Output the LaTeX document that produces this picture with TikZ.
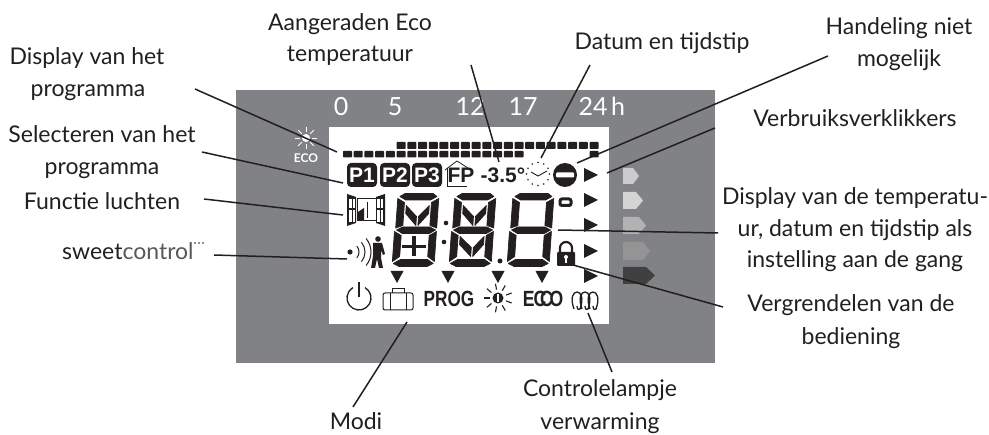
\documentclass[tikz,border=0pt]{standalone}
\usepackage{fontspec}
\setmainfont{Lato}
\newfontfamily\boldfont{Liberation Sans}
\definecolor{panel}{HTML}{808285}
\definecolor{ink}{HTML}{231F20}
\newcommand{\digitouter}{%
  \fill[seg] (5,70) -- (10,73) -- (38,73) -- (42,70) -- (36,66.5) -- (11,66.5) -- cycle;
  \fill[seg] (3,68) -- (10,64) -- (10,41) -- (3,38.5) -- cycle;
  \fill[seg] (44,68) -- (37,64) -- (37,41) -- (44,38.5) -- cycle;
  \fill[seg] (4,36.5) -- (10,39.5) -- (37,39.5) -- (43,36.5) -- (37,33) -- (10,33) -- cycle;
  \fill[seg] (2,35) -- (9,31) -- (9,10) -- (2,5) -- cycle;
  \fill[seg] (44,35) -- (37,31) -- (37,10) -- (44,5) -- cycle;
  \fill[seg] (3,3) -- (9,0) -- (37,0) -- (43,3) -- (37,7) -- (10,7) -- cycle;
}
\newcommand{\digitupm}{%
  \fill[seg] (12,61) -- (23,50) -- (23,41) -- (12,53) -- cycle;
  \fill[seg] (35,61) -- (25,50) -- (25,41) -- (35,53) -- cycle;
}
\newcommand{\digitlowm}{%
  \fill[seg] (11,30) -- (23,19) -- (23,10) -- (11,22) -- cycle;
  \fill[seg] (35,30) -- (25,19) -- (25,10) -- (35,22) -- cycle;
}
\newcommand{\digitplus}{%
  \fill[ink] (11,18.5) rectangle (34,21.5);
  \fill[ink] (21,10) rectangle (24,30);
}
\tikzset{
  x=1pt,y=-1pt,
  seg/.style={fill=ink,draw=ink,line width=0.7pt,line join=round},
  lbl/.style={font=\fontsize{23}{23}\selectfont,text=ink,anchor=base,inner sep=0pt,outer sep=0pt},
  leader/.style={draw=ink,line width=1.5pt},
  dignum/.style={font=\fontsize{25}{25}\selectfont,text=white,anchor=base,inner sep=0pt},
  pbox/.style={fill=ink,rounded corners=4pt},
  ptxt/.style={font=\boldfont\bfseries\fontsize{21}{21}\selectfont,text=white,anchor=base,inner sep=0pt},
  inktxt/.style={font=\boldfont\bfseries\fontsize{21}{21}\selectfont,text=ink,anchor=base,inner sep=0pt},
  tri/.style={fill=ink},
  digitframe/.style={x={(1pt,0pt)},y={(0.07pt,1pt)}},
}
\begin{document}
\begin{tikzpicture}
\useasboundingbox (0,0) rectangle (989,435);
\fill[white] (0,0) rectangle (989,435);
\fill[panel] (236,90) rectangle (715,363);
\fill[white] (329,127) rectangle (609,324);

% hour numbers
\node[dignum] (h0) at (341,116) {0};
\node[dignum] (h5) at (395,116) {5};
\node[dignum] (h12) at (470,116) {12};
\node[dignum] (h17) at (523,116) {17};
\node[dignum] (h24) at (593,116) {24};
\node[dignum] (hh) at (618,116) {h};

% eco sun in the panel
\foreach \a in {0,45,135,180,225,270,315,90}
  \draw[white,line width=0.9pt] (306,138) ++(\a:6) -- ++(\a:5);
\fill[white] (306,138) circle (4);
\node[font=\bfseries\fontsize{12}{12}\selectfont,text=white,inner sep=0pt] (ecopanel) at (306,158) {ECO};

% programme bars
\foreach \i in {0,...,23}{
  \pgfmathsetmacro{\bx}{343+10.72*\i}
  \ifnum\i<17 \fill[ink,rounded corners=0.7pt] (\bx,151) rectangle ++(9,6.4);\fi
  \ifnum\i=23 \fill[ink,rounded corners=0.7pt] (\bx,151) rectangle ++(9,6.4);\fi
  \ifnum\i>4 \fill[ink,rounded corners=0.7pt] (\bx,142) rectangle ++(9,7);\fi
}

% P1 P2 P3 FP
\fill[pbox] (347,163) rectangle (377,187);
\fill[pbox] (380,163) rectangle (410,187);
\fill[pbox] (412,163) rectangle (442,187);
\node[ptxt] (p1) at (362,183) {P1};
\node[ptxt] (p2) at (395,183) {P2};
\node[ptxt] (p3) at (427,183) {P3};
\node[inktxt] (fp) at (461,183) {FP};
\draw[ink,line width=0.8pt] (447,168) -- (447,186.5) -- (467,186.5);
\draw[ink,line width=0.8pt] (445,170) -- (457,161) -- (471,170);
\node[inktxt] (ecotemp) at (503,183) {-3.5°};

% clock
\foreach \a in {0,30,...,330}
  \fill[ink] (538,174) ++(\a:11.5) circle (0.9);
\draw[ink,line width=0.9pt] (531,172) -- (538,176) -- (547,171);
% no entry
\fill[ink] (565,175) circle (12);
\fill[white,rounded corners=1pt] (556,172.5) rectangle (574,177.5);

% level triangles
\foreach \y in {175,200,225,251,276}
  \fill[tri] (584,\y-7) -- (598,\y) -- (584,\y+7) -- cycle;
% consumption arrows
\fill[black!20] (623,168) -- (633,168) -- (639,176) -- (633,184) -- (623,184) -- cycle;
\fill[black!17] (623,192) -- (636,192) -- (643,200.5) -- (636,209) -- (623,209) -- cycle;
\fill[black!30] (623,217) -- (639,217) -- (646,225.5) -- (639,234) -- (623,234) -- cycle;
\fill[black!42] (623,242) -- (643,242) -- (650,251) -- (643,260) -- (623,260) -- cycle;
\fill[black!75] (623,267) -- (646,267) -- (655,275.5) -- (646,284) -- (623,284) -- cycle;

% seven segment digits
\begin{scope}[shift={(390,266.5)},digitframe]
  \digitouter\digitupm\digitplus
\end{scope}
\begin{scope}[shift={(447,266.5)},digitframe]
  \digitouter\digitupm\digitlowm
\end{scope}
\begin{scope}[shift={(505,266.5)},digitframe]
  \digitouter
\end{scope}
\fill[ink] (446,223) circle (2.3);
\fill[ink] (444,242) circle (2.3);
\fill[ink] (500,261) circle (2.5);
\draw[ink,line width=3pt,rounded corners=2pt] (560,199) rectangle (571,205.5);

% window icon
\draw[ink,line width=1pt] (357,199) rectangle (376,221);
\fill[ink] (347,194) -- (356,197) -- (356,223) -- (347,226) -- cycle;
\fill[ink] (385,194) -- (376,197) -- (376,223) -- (385,226) -- cycle;
\fill[white] (349,199) rectangle (351.5,208);
\fill[white] (352.5,199) rectangle (355,208);
\fill[white] (349,210) rectangle (351.5,222);
\fill[white] (352.5,210) rectangle (355,222);
\fill[white] (377,199) rectangle (379.5,208);
\fill[white] (380.5,199) rectangle (383,208);
\fill[white] (377,210) rectangle (379.5,222);
\fill[white] (380.5,210) rectangle (383,222);
\draw[ink,line width=0.8pt] (367,202) -- (367,218);
\fill[ink] (358,220) -- (358,212) -- (364,208) -- (364,220) -- cycle;

% presence
\fill[ink] (350,252) circle (2.6);
\draw[ink,line width=1pt] (350,252) ++(-40:9pt) arc[start angle=-40,end angle=40,radius=9pt];
\draw[ink,line width=1pt] (350,252) ++(-40:15pt) arc[start angle=-40,end angle=40,radius=15pt];
\draw[ink,line width=1pt] (350,252) ++(-40:21pt) arc[start angle=-40,end angle=40,radius=21pt];
\fill[ink] (378,239) circle (2.8);
\fill[ink] (373,243) -- (382,243) -- (385,254) -- (383,255) -- (381,250) -- (381,258) -- (383,268) -- (379,268) -- (377,259) -- (375,268) -- (371,268) -- (373,256) -- cycle;

% mode triangles
\foreach \x in {397,448,498,542}
  \fill[tri] (\x-6.5,271) -- (\x+6.5,271) -- (\x,283) -- cycle;

% power icon
\draw[ink,line width=1.3pt] (359,298) ++(60:12pt) arc[start angle=60,end angle=-240,radius=12pt];
\draw[ink,line width=1.3pt] (359,282) -- (359,297);
% suitcase
\draw[ink,line width=1pt,rounded corners=2pt] (383,293) rectangle (413,310);
\draw[ink,line width=1pt] (390,293) -- (390,310) (406,293) -- (406,310);
\draw[ink,line width=1pt] (392,293) -- (392,289) -- (404,289) -- (404,293);
% PROG
\node[inktxt,font=\boldfont\bfseries\fontsize{22}{22}\selectfont,xscale=0.78] (prog) at (449,307) {PROG};
% sun
\fill[ink] (498,298) circle (5.5);
\fill[white] (497,294) rectangle (499,302);
\foreach \a in {0,40,...,320}
  \draw[ink,line width=1.1pt] (498,298) ++(\a+20:8.5) -- ++(\a+20:6);
% ECO
\node[inktxt,font=\boldfont\bfseries\fontsize{22}{22}\selectfont,xscale=0.8] (eco) at (543,307) {E\kern-1pt C\kern-8pt C\kern-4pt O};
% heating coil
\foreach \cx in {573,581,589}
  \draw[ink,line width=1.3pt] (\cx+1,309) .. controls (\cx-3,298) and (\cx,292) .. (\cx+4,292) .. controls (\cx+8,292) and (\cx+11,298) .. (\cx+7,309) .. controls (\cx+6,311) and (\cx+4,309) .. (\cx+4,306);
% lock
\fill[ink,rounded corners=1pt] (557,252) rectangle (575,266);
\draw[ink,line width=2.2pt] (560,253) -- (560,248) arc[start angle=180,end angle=0,radius=6pt] -- (572,253);
\fill[white] (566,257) circle (2);
\fill[white] (565,257) rectangle (567,263);

% labels
\node[lbl] (aang1) at (350,31) {Aangeraden Eco};
\node[lbl] (aang2) at (350,62) {temperatuur};
\node[lbl] (disp1) at (87,65) {Display van het};
\node[lbl] (disp2) at (88,97) {programma};
\node[lbl] (sel1) at (102,143) {Selecteren van het};
\node[lbl] (sel2) at (102,175) {programma};
\node[lbl] (func) at (102,210) {Functie luchten};
\node[font=\fontsize{23}{23}\selectfont,text=ink,anchor=base west,inner sep=0pt] (sweet) at (62,260) {sweet{\color{ink!75}control}};
\foreach \x in {195,199,203}\fill[ink] (\x,243) circle (0.9);
\node[lbl] (datum) at (662,50) {Datum en tijdstip};
\node[lbl] (hand1) at (899,35) {Handeling niet};
\node[lbl] (hand2) at (899,67) {mogelijk};
\node[lbl] (verb) at (855,127) {Verbruiksverklikkers};
\node[lbl] (tmp1) at (855,205) {Display van de temperatu-};
\node[lbl] (tmp2) at (855,237) {ur, datum en tijdstip als};
\node[lbl] (tmp3) at (855,268) {instelling aan de gang};
\node[lbl] (ver1) at (851,312) {Vergrendelen van de};
\node[lbl] (ver2) at (851,345) {bediening};
\node[lbl] (modi) at (356,430) {Modi};
\node[lbl] (ctl1) at (600,397) {Controlelampje};
\node[lbl] (ctl2) at (600,430) {verwarming};

% leader ends
\coordinate (aD) at (195,89);   \coordinate (bD) at (337,152);
\coordinate (aS) at (202,152);  \coordinate (bS) at (343,183);
\coordinate (aF) at (204,199);  \coordinate (bF) at (343,215);
\coordinate (aW) at (214,255);  \coordinate (bW) at (347,259);
\coordinate (aA) at (471,65);   \coordinate (bA) at (499,162);
\coordinate (aT) at (590,65);   \coordinate (bT) at (541,158);
\coordinate (aH) at (828,56);   \coordinate (bH) at (577,163);
\coordinate (aV) at (715,128);  \coordinate (bV) at (607,173);
\coordinate (aC) at (718,233);  \coordinate (bC) at (558,230);
\coordinate (aL) at (723,307);  \coordinate (bL) at (573,265);
\coordinate (aM) at (353,407);  \coordinate (bM) at (407,322);
\coordinate (aK) at (612,372);  \coordinate (bK) at (588,313);
\foreach \p in {D,S,F,W,A,T,H,V,C,L,M,K}
  \draw[leader] (a\p) -- (b\p);
\end{tikzpicture}
\end{document}
